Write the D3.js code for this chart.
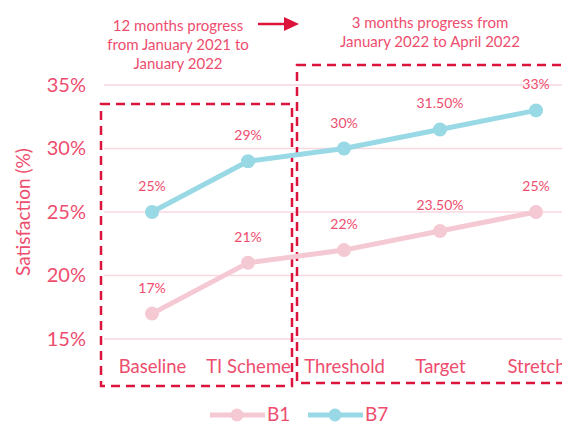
<!DOCTYPE html>
<html lang="en">
<head>
<meta charset="UTF-8">
<title>Satisfaction progress</title>
<script src="https://d3js.org/d3.v7.min.js"></script>
<style>
  body { margin: 0; background: #fff; }
  svg text { font-family: "Lato", "Open Sans", sans-serif; fill: #ee4d6e; }
</style>
</head>
<body>
<svg width="562" height="425"></svg>
<script>
const categories = ["Baseline", "TI Scheme", "Threshold", "Target", "Stretch"];
const b1 = [17, 21, 22, 23.5, 25];
const b7 = [25, 29, 30, 31.5, 33];
const b1Labels = ["17%", "21%", "22%", "23.50%", "25%"];
const b7Labels = ["25%", "29%", "30%", "31.50%", "33%"];
const yTicks = [15, 20, 25, 30, 35];

const textCol = "#ee4d6e", boxCol = "#dc143c";
const col1 = "#f5c9d3", col7 = "#98d9e5";

const svg = d3.select("svg");

const x = d3.scalePoint().domain(categories).range([152, 536]);
const y = d3.scaleLinear().domain([15, 35]).range([339, 85]);

// gridlines
svg.append("g").selectAll("line").data(yTicks).join("line")
  .attr("x1", 104).attr("x2", 562)
  .attr("y1", d => y(d)).attr("y2", d => y(d))
  .attr("stroke", "#f9d9e0").attr("stroke-width", 1.5);

// y axis labels
const yAxis = svg.append("g").attr("transform", "translate(86,0)")
  .call(d3.axisLeft(y).tickValues(yTicks).tickFormat(d => d + "%").tickSize(0));
yAxis.select(".domain").remove();
yAxis.selectAll("text").attr("font-size", 20).attr("fill", textCol).attr("x", 0);

// x axis labels
const xAxis = svg.append("g").attr("transform", "translate(0,357)")
  .call(d3.axisBottom(x).tickSize(0));
xAxis.select(".domain").remove();
xAxis.selectAll("text").attr("font-size", 18.5).attr("fill", textCol);

svg.append("text")
  .attr("transform", "translate(30,212) rotate(-90)")
  .attr("text-anchor", "middle").attr("font-size", 19)
  .text("Satisfaction (%)");

// dashed boxes
svg.append("rect").attr("x", 101).attr("y", 104).attr("width", 191).attr("height", 282)
  .attr("fill", "none").attr("stroke", boxCol).attr("stroke-width", 2.5).attr("stroke-dasharray", "9,6");
svg.append("rect").attr("x", 297).attr("y", 65).attr("width", 290).attr("height", 318)
  .attr("fill", "none").attr("stroke", boxCol).attr("stroke-width", 2.5).attr("stroke-dasharray", "9,6");

// series
const line = d3.line().x((d, i) => x(categories[i])).y(d => y(d));
[[b1, col1, b1Labels], [b7, col7, b7Labels]].forEach(([vals, c, labs]) => {
  svg.append("path").datum(vals).attr("d", line)
    .attr("fill", "none").attr("stroke", c).attr("stroke-width", 5);
  svg.append("g").selectAll("circle").data(vals).join("circle")
    .attr("cx", (d, i) => x(categories[i])).attr("cy", d => y(d))
    .attr("r", 7).attr("fill", c);
  svg.append("g").selectAll("text").data(vals).join("text")
    .attr("x", (d, i) => x(categories[i])).attr("y", d => y(d) - 21)
    .attr("text-anchor", "middle").attr("font-size", 14)
    .text((d, i) => labs[i]);
});

// annotations
const ann1 = ["12 months progress", "from January 2021 to", "January 2022"];
const ann2 = ["3 months progress from", "January 2022 to April 2022"];
svg.append("g").selectAll("text").data(ann1).join("text")
  .attr("x", 178).attr("y", (d, i) => 31 + i * 19)
  .attr("text-anchor", "middle").attr("font-size", 15).attr("fill", boxCol).text(d => d);
svg.append("g").selectAll("text").data(ann2).join("text")
  .attr("x", 430).attr("y", (d, i) => 28 + i * 19)
  .attr("text-anchor", "middle").attr("font-size", 15).attr("fill", boxCol).text(d => d);
svg.append("line").attr("x1", 258).attr("x2", 286).attr("y1", 24).attr("y2", 24)
  .attr("stroke", boxCol).attr("stroke-width", 2.5);
svg.append("path").attr("d", "M284,17 L299,24 L284,31 Z").attr("fill", boxCol);

// legend
const legend = [["B1", col1, 210], ["B7", col7, 308]];
legend.forEach(([name, c, lx]) => {
  const g = svg.append("g");
  g.append("line").attr("x1", lx).attr("x2", lx + 55).attr("y1", 415).attr("y2", 415)
    .attr("stroke", c).attr("stroke-width", 5);
  g.append("circle").attr("cx", lx + 27).attr("cy", 415).attr("r", 6.5).attr("fill", c);
  g.append("text").attr("x", lx + 57).attr("y", 421).attr("font-size", 19).text(name);
});
</script>
</body>
</html>
